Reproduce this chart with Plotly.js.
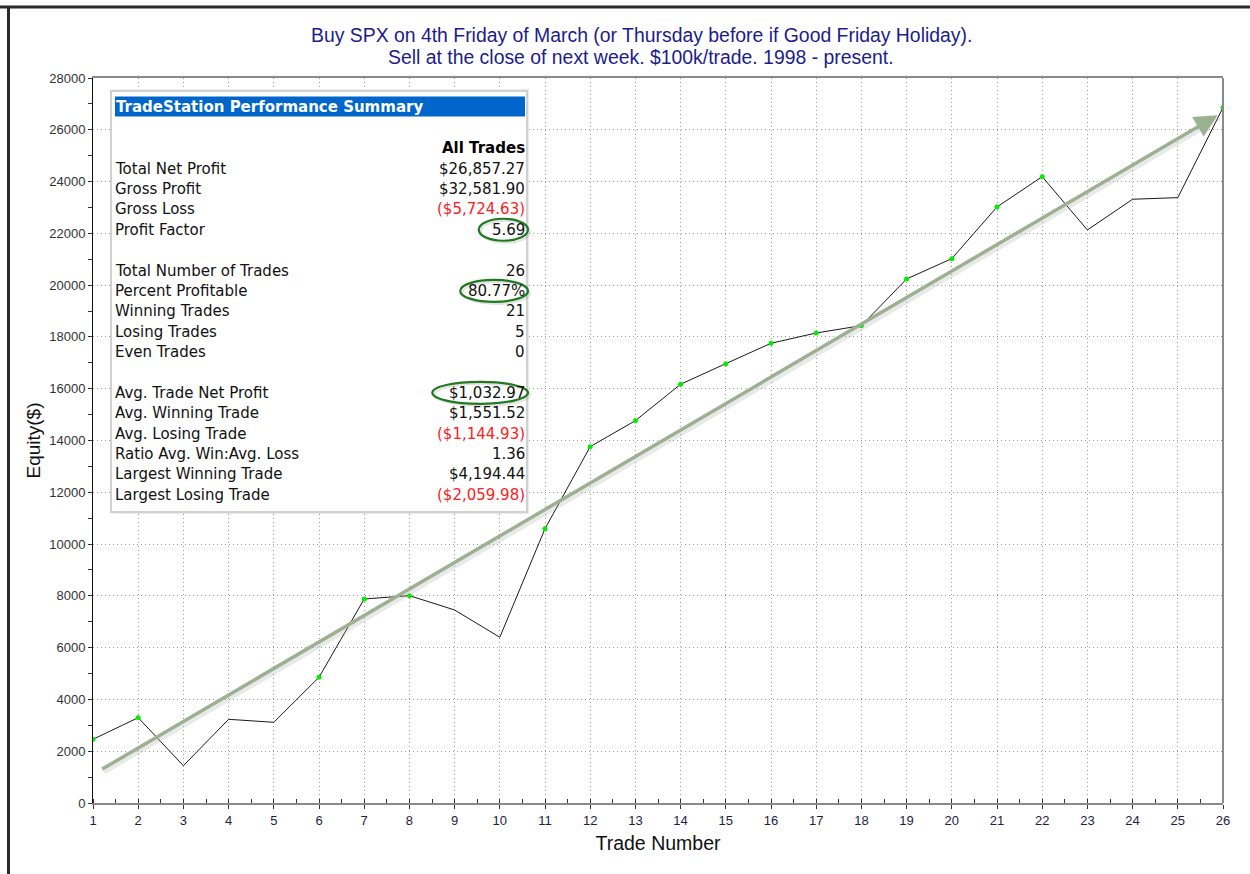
<!DOCTYPE html>
<html>
<head>
<meta charset="utf-8">
<script src="https://cdn.plot.ly/plotly-3.0.1.min.js"></script>
<style>
  html, body { margin: 0; padding: 0; background: #ffffff; }
  #chart { width: 1250px; height: 874px; }
</style>
</head>
<body>
<div id="chart"></div>
<script>
// ---- data ----
var tradeNumbers = [1,2,3,4,5,6,7,8,9,10,11,12,13,14,15,16,17,18,19,20,21,22,23,24,25,26];
var equity = [2460, 3295, 1441, 3232, 3116, 4855, 7879, 8008, 7455, 6400, 10594, 13762, 14767,
              16172, 16968, 17755, 18153, 18436, 20239, 21024, 23020, 24191, 22131, 23317, 23380, 26857];
var trendStart = [1.17, 1275];
var trendEnd = [25.88, 26560];

var titleLines = ["Buy SPX on 4th Friday of March (or Thursday before if Good Friday Holiday).",
                  "Sell at the close of next week. $100k/trade. 1998 - present."];
var summaryTitle = "TradeStation Performance Summary";
var summaryColumn = "All Trades";
var summaryLabels = ["Total Net Profit", "Gross Profit", "Gross Loss", "Profit Factor", "",
                     "Total Number of Trades", "Percent Profitable", "Winning Trades", "Losing Trades", "Even Trades", "",
                     "Avg. Trade Net Profit", "Avg. Winning Trade", "Avg. Losing Trade", "Ratio Avg. Win:Avg. Loss",
                     "Largest Winning Trade", "Largest Losing Trade"];
var summaryValues = ["$26,857.27", "$32,581.90", "($5,724.63)", "5.69", "",
                     "26", "80.77%", "21", "5", "0", "",
                     "$1,032.97", "$1,551.52", "($1,144.93)", "1.36",
                     "$4,194.44", "($2,059.98)"];
var circledLabels = ["Profit Factor", "Percent Profitable", "Avg. Trade Net Profit"];

// ---- geometry helpers (pixel -> paper) ----
var L = 93, R = 1223, T = 78, B = 803;
function px(X) { return (X - L) / (R - L); }
function py(Y) { return (B - Y) / (B - T); }

// new equity highs get a green marker
var hiX = [], hiY = [], runMax = -Infinity;
for (var i = 0; i < equity.length; i++) {
  if (equity[i] > runMax) { runMax = equity[i]; hiX.push(tradeNumbers[i]); hiY.push(equity[i]); }
}

var traces = [
  { x: tradeNumbers, y: equity, type: 'scatter', mode: 'lines',
    line: { color: '#1a1a1a', width: 1 }, hoverinfo: 'x+y', showlegend: false },
  { x: hiX, y: hiY, type: 'scatter', mode: 'markers',
    marker: { color: '#00ee00', size: 5 }, hoverinfo: 'x+y', showlegend: false }
];

var shapes = [];
var annotations = [];

// outer frame (top + left dark bars)
shapes.push({ type: 'line', xref: 'paper', yref: 'paper', x0: px(0), x1: px(1250), y0: py(7), y1: py(7),
              line: { color: '#2b2b2b', width: 3 } });
shapes.push({ type: 'line', xref: 'paper', yref: 'paper', x0: px(8.5), x1: px(8.5), y0: py(6), y1: py(874),
              line: { color: '#2b2b2b', width: 3 } });
// right border of plot
shapes.push({ type: 'line', xref: 'paper', yref: 'paper', x0: 1, x1: 1, y0: 0, y1: 1,
              line: { color: '#8a8a8a', width: 2 } });

// title lines
annotations.push({ xref: 'paper', yref: 'paper', x: px(641), y: py(35), xanchor: 'center', yanchor: 'middle',
                   text: titleLines[0], showarrow: false,
                   font: { family: 'Liberation Sans', size: 19.4, color: '#1c1c8c' } });
annotations.push({ xref: 'paper', yref: 'paper', x: px(641), y: py(56.5), xanchor: 'center', yanchor: 'middle',
                   text: titleLines[1], showarrow: false,
                   font: { family: 'Liberation Sans', size: 19.4, color: '#1c1c8c' } });

// summary box
shapes.push({ type: 'rect', xref: 'paper', yref: 'paper', x0: px(113), x1: px(529), y0: py(89), y1: py(514),
              fillcolor: '#ececec', line: { width: 0 } });
shapes.push({ type: 'rect', xref: 'paper', yref: 'paper', x0: px(111), x1: px(527), y0: py(91), y1: py(512),
              fillcolor: '#ffffff', line: { color: '#d0d0d0', width: 2 } });
shapes.push({ type: 'rect', xref: 'paper', yref: 'paper', x0: px(115), x1: px(525), y0: py(96.5), y1: py(116.5),
              fillcolor: '#0066cc', line: { width: 0 } });

annotations.push({ xref: 'paper', yref: 'paper', x: px(113.5), y: py(107), xanchor: 'left', yanchor: 'middle',
                   text: '<b>' + summaryTitle + '</b>', showarrow: false,
                   font: { family: 'DejaVu Sans', size: 15, color: '#ffffff' } });
annotations.push({ xref: 'paper', yref: 'paper', x: px(527), y: py(148), xanchor: 'right', yanchor: 'middle',
                   text: '<b>' + summaryColumn + '</b>', showarrow: false,
                   font: { family: 'DejaVu Sans', size: 15, color: '#000000' } });

var rowY0 = 168.6, rowStep = 20.38;
for (var r = 0; r < summaryLabels.length; r++) {
  if (!summaryLabels[r]) continue;
  var yc = rowY0 + r * rowStep;
  var neg = summaryValues[r].charAt(0) === '(';
  annotations.push({ xref: 'paper', yref: 'paper', x: px(112.5), y: py(yc), xanchor: 'left', yanchor: 'middle',
                     text: summaryLabels[r], showarrow: false,
                     font: { family: 'DejaVu Sans', size: 15, color: '#111111' } });
  annotations.push({ xref: 'paper', yref: 'paper', x: px(527), y: py(yc), xanchor: 'right', yanchor: 'middle',
                     text: summaryValues[r], showarrow: false,
                     font: { family: 'DejaVu Sans', size: 15, color: neg ? '#ff2020' : '#111111' } });
  if (circledLabels.indexOf(summaryLabels[r]) >= 0) {
    var w = summaryValues[r].length * 9.3 + 12;
    var x1 = 528, x0 = x1 - w;
    shapes.push({ type: 'circle', xref: 'paper', yref: 'paper', x0: px(x0 + 2), x1: px(x1 + 2),
                  y0: py(yc - 9), y1: py(yc + 13), line: { color: 'rgba(140,140,140,0.25)', width: 2 } });
    shapes.push({ type: 'circle', xref: 'paper', yref: 'paper', x0: px(x0), x1: px(x1),
                  y0: py(yc - 11), y1: py(yc + 11), line: { color: '#1f7a1f', width: 2.2 } });
  }
}

// trend arrow with soft shadow
annotations.push({ x: trendEnd[0] + 0.04, y: trendEnd[1] - 110, ax: trendStart[0] + 0.04, ay: trendStart[1] - 110,
                   xref: 'x', yref: 'y', axref: 'x', ayref: 'y', text: '', showarrow: true,
                   arrowhead: 0, arrowwidth: 5, arrowcolor: 'rgba(160,160,160,0.22)' });
annotations.push({ x: trendEnd[0], y: trendEnd[1], ax: trendStart[0], ay: trendStart[1],
                   xref: 'x', yref: 'y', axref: 'x', ayref: 'y', text: '', showarrow: true,
                   arrowhead: 2, arrowsize: 1.3, arrowwidth: 3.5, arrowcolor: '#9cb191' });

var layout = {
  width: 1250, height: 874,
  margin: { l: L, r: 1250 - R, t: T, b: 874 - B, pad: 0 },
  paper_bgcolor: '#ffffff', plot_bgcolor: '#ffffff',
  showlegend: false,
  xaxis: {
    range: [1, 26], tickmode: 'array', tickvals: tradeNumbers, ticktext: tradeNumbers.map(String),
    showgrid: true, gridcolor: '#9a9a9a', griddash: '1px,3px', gridwidth: 1,
    showline: true, linecolor: '#8a8a8a', linewidth: 2, mirror: true,
    ticks: 'outside', ticklen: 4, tickcolor: '#333333',
    minor: { dtick: 0.5, ticks: 'inside', ticklen: 4, tickcolor: '#333333', showgrid: false },
    tickfont: { family: 'Liberation Sans', size: 13, color: '#1e1e40' },
    zeroline: false,
    title: { text: 'Trade Number', font: { family: 'Liberation Sans', size: 19.5, color: '#111111' }, standoff: 10 }
  },
  yaxis: {
    range: [0, 28000], tickmode: 'linear', tick0: 0, dtick: 2000, tickformat: 'd',
    showgrid: true, gridcolor: '#9a9a9a', griddash: '1px,3px', gridwidth: 1,
    showline: true, linecolor: '#111111', linewidth: 1, mirror: false,
    ticks: 'outside', ticklen: 4, tickcolor: '#333333',
    minor: { dtick: 1000, ticks: 'outside', ticklen: 4, tickcolor: '#333333', showgrid: false },
    tickfont: { family: 'Liberation Sans', size: 13, color: '#333333' },
    zeroline: false,
    title: { text: 'Equity($)', font: { family: 'Liberation Sans', size: 19, color: '#111111' }, standoff: 3 }
  },
  shapes: shapes,
  annotations: annotations
};

Plotly.newPlot('chart', traces, layout, { displayModeBar: false, staticPlot: true });
</script>
</body>
</html>
